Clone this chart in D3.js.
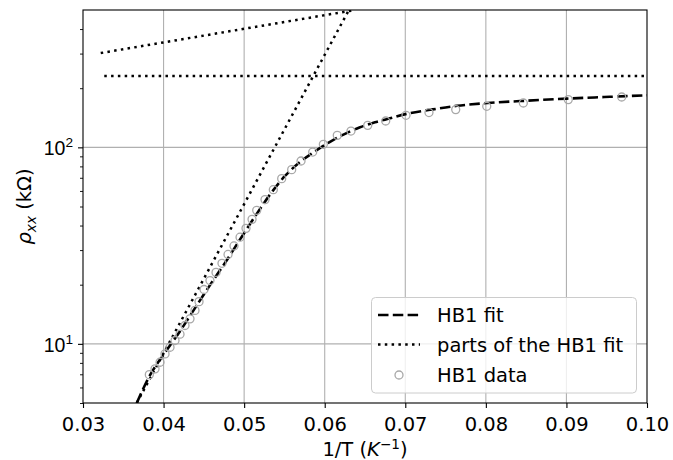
<!DOCTYPE html>
<html><head><meta charset="utf-8">
<script src="https://cdn.jsdelivr.net/npm/d3@7"></script>
<style>
html,body{margin:0;padding:0;background:#fff;}
svg{display:block;font-family:"DejaVu Sans",sans-serif;}
</style></head>
<body>
<svg id="chart" width="673" height="460"></svg>
<script>
// ---- data ----
const dataX = [0.03823,0.03894,0.03956,0.04018,0.0408,0.04142,0.04204,0.04266,0.04328,0.0439,0.04440,0.04502,0.04576,0.04651,0.04725,0.048,0.04874,0.04949,0.05023,0.05098,0.05156,0.05259,0.05362,0.05466,0.0559,0.05706,0.05851,0.05983,0.06156,0.06326,0.06534,0.06757,0.07009,0.07294,0.07626,0.08011,0.08465,0.09023,0.09686];
const dataY = [6.97,7.46,8.06,8.89,9.61,10.4,11.2,12.4,13.4,14.8,16.4,18.9,21.0,23.1,25.7,28.5,31.5,34.9,38.7,43.0,47.8,54.2,60.9,69.3,77.0,85.2,94.6,103.6,115.1,121,129.4,136.2,145.6,150.3,155.6,161.8,168.1,175,180.4];

const fitX = [0.03667,0.03832,0.04018,0.04204,0.0439,0.04576,0.04762,0.04949,0.05135,0.05321,0.05507,0.05693,0.05879,0.06066,0.06252,0.06438,0.06624,0.0681,0.07021,0.07307,0.07642,0.07927,0.08424,0.09007,0.09541,0.10];
const fitY = [5.0,6.93,9.03,11.6,15.2,19.9,25.8,34.0,44.5,57.5,71.5,84.2,95.4,106.7,117.2,126.5,134.1,140.5,148.2,155.2,162.7,167,172,177,180.8,184.1];

const steepX = [0.03667,0.0630], steepY = [5,500];
const shallowX = [0.0322,0.0638], shallowY = [302,500];
const constX = [0.03264,0.100], constY = [231,231];

const xTicks = [0.03,0.04,0.05,0.06,0.07,0.08,0.09,0.10];
const xTickLabels = ["0.03","0.04","0.05","0.06","0.07","0.08","0.09","0.10"];
const yMajor = [10,100];
const yMajorExp = ["1","2"];
const yMinor = [5,6,7,8,9,20,30,40,50,60,70,80,90,200,300,400];

const legendLabels = ["HB1 fit","parts of the HB1 fit","HB1 data"];

// ---- layout ----
const L = 83, R = 647, T = 10, B = 403;
const svg = d3.select("#chart");
const x = d3.scaleLinear().domain([0.03,0.10]).range([L,R]);
const y = d3.scaleLog().domain([5,500]).range([B,T]);
const FS = 19.5;

svg.append("defs").append("clipPath").attr("id","clip")
  .append("rect").attr("x",L).attr("y",T).attr("width",R-L).attr("height",B-T);

// grid
const grid = svg.append("g").attr("stroke","#b0b0b0").attr("stroke-width",1.1);
grid.selectAll("line.gx").data(xTicks.slice(1,-1)).join("line")
  .attr("x1",d=>x(d)).attr("x2",d=>x(d)).attr("y1",T).attr("y2",B);
grid.selectAll("line.gy").data(yMajor).join("line")
  .attr("x1",L).attr("x2",R).attr("y1",d=>y(d)).attr("y2",d=>y(d));

// axes via d3 axis
const xAxis = d3.axisBottom(x).tickValues(xTicks).tickFormat((d,i)=>xTickLabels[i]).tickSize(5).tickPadding(5);
const gx = svg.append("g").attr("transform",`translate(0,${B})`).call(xAxis);
gx.select(".domain").remove();
gx.selectAll("line").attr("stroke","#000").attr("stroke-width",1.1);
gx.selectAll("text").attr("font-size",FS).attr("font-family","DejaVu Sans").attr("fill","#000").attr("dy","0.9em");

const yAxisMinor = d3.axisLeft(y).tickValues(yMinor).tickFormat("").tickSize(3);
const gym = svg.append("g").attr("transform",`translate(${L},0)`).call(yAxisMinor);
gym.select(".domain").remove();
gym.selectAll("line").attr("stroke","#000").attr("stroke-width",0.9);

const yAxisMajor = d3.axisLeft(y).tickValues(yMajor).tickFormat("").tickSize(5);
const gyM = svg.append("g").attr("transform",`translate(${L},0)`).call(yAxisMajor);
gyM.select(".domain").remove();
gyM.selectAll("line").attr("stroke","#000").attr("stroke-width",1.1);
gyM.selectAll(".tick").each(function(d,i){
  const t = d3.select(this).append("text").attr("x",-10).attr("y",7.5)
    .attr("text-anchor","end").attr("font-size",FS).attr("fill","#000");
  t.append("tspan").text("10");
  t.append("tspan").attr("dy",-8).attr("font-size",FS*0.7).text(yMajorExp[i]);
});

// plot lines
const plot = svg.append("g").attr("clip-path","url(#clip)");
const line = d3.line().x(d=>x(d[0])).y(d=>y(d[1]));
const dotted = {stroke:"#000","stroke-width":2.5,"stroke-dasharray":"2.5,4.3",fill:"none"};
function applyAttrs(sel,obj){for(const k in obj) sel.attr(k,obj[k]); return sel;}
[[steepX,steepY],[shallowX,shallowY],[constX,constY]].forEach(([xs,ys])=>{
  applyAttrs(plot.append("path").attr("d",line(d3.zip(xs,ys))),dotted);
});
const fitLine = d3.line().x(d=>x(d[0])).y(d=>y(d[1])).curve(d3.curveMonotoneX);
plot.append("path").attr("d",fitLine(d3.zip(fitX,fitY)))
  .attr("fill","none").attr("stroke","#000").attr("stroke-width",2.6).attr("stroke-dasharray","10.5,4.3");

svg.append("g").selectAll("circle").data(d3.zip(dataX,dataY)).join("circle")
  .attr("cx",d=>x(d[0])).attr("cy",d=>y(d[1])).attr("r",4)
  .attr("fill","none").attr("stroke","#a8a8a8").attr("stroke-width",1.3);

// spines
svg.append("rect").attr("x",L).attr("y",T).attr("width",R-L).attr("height",B-T)
  .attr("fill","none").attr("stroke","#000").attr("stroke-width",1.1);

// axis labels
const xl = svg.append("text").attr("x",(L+R)/2).attr("y",456).attr("text-anchor","middle")
  .attr("font-size",FS).attr("fill","#000");
xl.append("tspan").text("1/T (");
xl.append("tspan").attr("font-style","italic").text("K");
xl.append("tspan").attr("dy",-7).attr("font-size",FS*0.7).text("−1");
xl.append("tspan").attr("dy",7).text(")");

const yl = svg.append("text").attr("transform",`translate(31,${(T+B)/2}) rotate(-90)`)
  .attr("text-anchor","middle").attr("font-size",FS).attr("fill","#000");
yl.append("tspan").attr("font-style","italic").text("ρ");
yl.append("tspan").attr("font-style","italic").attr("dy",5).attr("font-size",FS*0.7).text("xx");
yl.append("tspan").attr("dy",-5).text(" (kΩ)");

// legend
const lg = svg.append("g");
lg.append("rect").attr("x",371.5).attr("y",297.5).attr("width",265).attr("height",95.5).attr("rx",4)
  .attr("fill","#fff").attr("fill-opacity",0.8).attr("stroke","#cccccc").attr("stroke-width",1);
const rows = [315,344.5,375];
lg.append("line").attr("x1",378).attr("x2",420).attr("y1",rows[0]).attr("y2",rows[0])
  .attr("stroke","#000").attr("stroke-width",2.6).attr("stroke-dasharray","10.5,4.3");
applyAttrs(lg.append("line").attr("x1",378).attr("x2",420).attr("y1",rows[1]).attr("y2",rows[1]),dotted);
lg.append("circle").attr("cx",399).attr("cy",rows[2]).attr("r",4)
  .attr("fill","none").attr("stroke","#a8a8a8").attr("stroke-width",1.3);
lg.selectAll("text.l").data(legendLabels).join("text")
  .attr("x",437).attr("y",(d,i)=>rows[i]+7).attr("font-size",FS).attr("fill","#000").text(d=>d);
</script>
</body></html>
